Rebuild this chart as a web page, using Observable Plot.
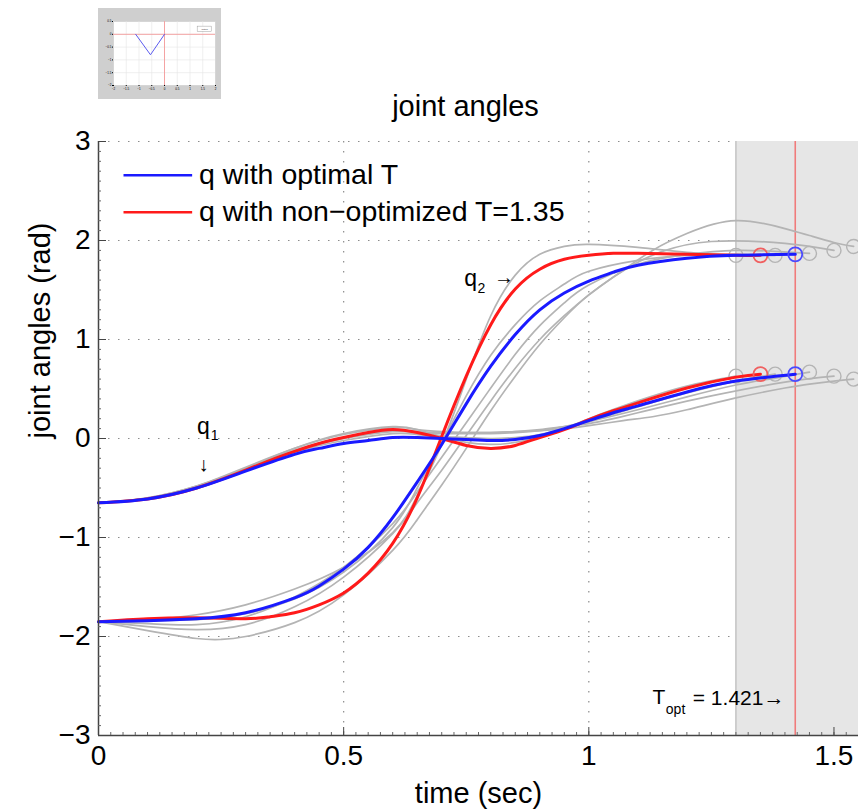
<!DOCTYPE html>
<html>
<head>
<meta charset="utf-8">
<script src="https://cdn.jsdelivr.net/npm/d3@7"></script>
<script src="https://cdn.jsdelivr.net/npm/@observablehq/plot@0.6"></script>
<style>
  html, body { margin: 0; padding: 0; background: #fff; }
  #wrap { position: relative; width: 858px; height: 811px; overflow: hidden; font-family: "Liberation Sans", Arial, Helvetica, sans-serif; }
  #main { position: absolute; left: 0; top: 0; }
  #thumb { position: absolute; left: 98px; top: 8px; }
</style>
</head>
<body>
<div id="wrap"><div id="main"></div><div id="thumb"></div></div>
<script>
// ---------- ticks / labels ----------
const xMajor = [0, 0.5, 1, 1.5];
const yMajor = [-3, -2, -1, 0, 1, 2, 3];
const gridX = [0.5, 1, 1.5];
const gridY = [-2, -1, 0, 1, 2, 3];
const titleText = "joint angles";
const xLabel = "time (sec)";
const yLabel = "joint angles (rad)";
const legendNames = ["q with optimal T", "q with non\u2212optimized T=1.35"];

// ---------- shaded region / optimal time ----------
const bandStart = [1.30];
const bandEnd = [1.55];
const Topt = [1.421];

// ---------- optimal T (blue) ----------
const blueT  = [0,0.1,0.2,0.3,0.4,0.45,0.5,0.55,0.6,0.65,0.7,0.75,0.8,0.85,0.9,0.95,1.0,1.05,1.1,1.2,1.3,1.421];
const blueQ1 = [-0.65,-0.61,-0.50,-0.33,-0.16,-0.10,-0.05,-0.02,0.01,0.01,0.00,-0.01,-0.02,-0.01,0.03,0.10,0.18,0.26,0.33,0.47,0.58,0.65];
const blueQ2 = [-1.85,-1.84,-1.82,-1.76,-1.61,-1.49,-1.32,-1.10,-0.80,-0.44,-0.06,0.35,0.73,1.05,1.30,1.47,1.59,1.68,1.75,1.82,1.85,1.86];

// ---------- non-optimized T = 1.35 (red) ----------
const redT  = [0,0.1,0.2,0.3,0.35,0.4,0.45,0.5,0.55,0.6,0.65,0.7,0.75,0.8,0.85,0.9,0.95,1.0,1.05,1.1,1.2,1.3,1.35];
const redQ1 = [-0.65,-0.61,-0.50,-0.32,-0.22,-0.13,-0.05,0.01,0.06,0.09,0.06,0.00,-0.07,-0.10,-0.07,0.01,0.09,0.19,0.28,0.36,0.51,0.62,0.65];
const redQ2 = [-1.85,-1.82,-1.81,-1.82,-1.80,-1.76,-1.68,-1.56,-1.36,-1.06,-0.60,0.02,0.63,1.15,1.51,1.71,1.81,1.85,1.87,1.87,1.86,1.85,1.85];

// ---------- intermediate iterates (gray) ----------
const g1T  = [0,0.1,0.2,0.3,0.4,0.5,0.6,0.65,0.7,0.75,0.8,0.85,0.9,0.95,1.0,1.1,1.2,1.3];
const g1Q1 = [-0.65,-0.60,-0.48,-0.30,-0.10,0.05,0.12,0.09,0.02,-0.04,-0.06,-0.04,0.02,0.10,0.20,0.38,0.53,0.63];
const g1Q2 = [-1.85,-1.83,-1.78,-1.68,-1.52,-1.30,-0.95,-0.58,-0.06,0.60,1.24,1.65,1.86,1.94,1.96,1.93,1.88,1.85];

const g2T  = [0,0.1,0.2,0.3,0.4,0.5,0.6,0.65,0.7,0.75,0.8,0.85,0.9,0.95,1.0,1.1,1.2,1.3,1.38];
const g2Q1 = [-0.65,-0.61,-0.50,-0.32,-0.14,-0.02,0.05,0.04,0.02,0.01,0.00,0.01,0.04,0.10,0.17,0.32,0.46,0.58,0.65];
const g2Q2 = [-1.85,-1.84,-1.83,-1.77,-1.62,-1.35,-0.90,-0.50,-0.04,0.43,0.84,1.15,1.39,1.56,1.69,1.80,1.85,1.86,1.85];

const g3T  = [0,0.1,0.2,0.3,0.4,0.5,0.6,0.65,0.7,0.75,0.8,0.85,0.9,0.95,1.0,1.1,1.2,1.3,1.38,1.45];
const g3Q1 = [-0.65,-0.61,-0.49,-0.31,-0.13,0.00,0.07,0.06,0.05,0.05,0.05,0.06,0.08,0.12,0.17,0.29,0.42,0.54,0.61,0.67];
const g3Q2 = [-1.85,-1.87,-1.88,-1.80,-1.60,-1.30,-0.86,-0.54,-0.19,0.16,0.51,0.85,1.14,1.37,1.55,1.76,1.86,1.90,1.89,1.87];

const g4T  = [0,0.1,0.2,0.3,0.4,0.5,0.6,0.65,0.7,0.75,0.8,0.85,0.9,0.95,1.0,1.05,1.1,1.15,1.25,1.4,1.5];
const g4Q1 = [-0.65,-0.61,-0.49,-0.31,-0.12,0.01,0.08,0.07,0.06,0.06,0.06,0.07,0.09,0.12,0.15,0.20,0.26,0.32,0.43,0.57,0.63];
const g4Q2 = [-1.85,-1.90,-1.93,-1.88,-1.70,-1.40,-0.96,-0.65,-0.32,0.03,0.38,0.71,1.00,1.24,1.45,1.63,1.78,1.89,1.99,1.97,1.90];

const g5T  = [0,0.1,0.2,0.25,0.3,0.4,0.5,0.6,0.65,0.7,0.75,0.8,0.85,0.9,0.95,1.0,1.07,1.13,1.2,1.3,1.4,1.45,1.5,1.54];
const g5Q1 = [-0.65,-0.60,-0.48,-0.39,-0.29,-0.10,0.04,0.11,0.09,0.07,0.06,0.06,0.07,0.08,0.10,0.13,0.18,0.22,0.29,0.41,0.51,0.55,0.58,0.60];
const g5Q2 = [-1.85,-1.94,-2.02,-2.03,-2.00,-1.86,-1.58,-1.13,-0.82,-0.47,-0.10,0.28,0.63,0.95,1.22,1.45,1.70,1.90,2.07,2.20,2.12,2.05,1.98,1.94];

// ---------- annotations (data coordinates) ----------
const annMain = [
  {x: 0.214, y: 0.12, text: "q", size: 23},
  {x: 0.214, y: -0.26, text: "\u2193", size: 20},
  {x: 0.759, y: 1.61, text: "q", size: 23},
  {x: 0.827, y: 1.63, text: "\u2192", size: 20}
];
const annSub = [
  {x: 0.229, y: 0.03, text: "1"},
  {x: 0.773, y: 1.52, text: "2"},
  {x: 1.157, y: -2.74, text: "opt"}
];
const annT = [{x: 1.143, y: -2.61, text: "T"}];
const annTval = [{x: 1.212, y: -2.62, text: "= 1.421\u2192"}];

// ---------- thumbnail data ----------
const thumbX = [-1.13, -0.55, 0];
const thumbY = [0, -0.8, 0];
const thumbXTicks = [-2,-1.5,-1,-0.5,0,0.5,1,1.5,2];
const thumbYTicks = [-2,-1.5,-1,-0.5,0,0.5];

// ---------- build tables ----------
function build(ts, qs, name) { return ts.map((t, i) => ({t, q: qs[i], name})); }
const grayTraj = [[g1T,g1Q1,g1Q2],[g2T,g2Q1,g2Q2],[g3T,g3Q1,g3Q2],[g4T,g4Q1,g4Q2],[g5T,g5Q1,g5Q2]];
const grayLines = grayTraj.flatMap(([T, a, b], k) => [...build(T, a, "g" + k + "a"), ...build(T, b, "g" + k + "b")]);
const grayEnds = grayTraj.flatMap(([T, a, b]) => [{t: T[T.length-1], q: a[a.length-1]}, {t: T[T.length-1], q: b[b.length-1]}]);
const blueLines = [...build(blueT, blueQ1, "b1"), ...build(blueT, blueQ2, "b2")];
const redLines = [...build(redT, redQ1, "r1"), ...build(redT, redQ2, "r2")];
const blueEnds = [{t: blueT.at(-1), q: blueQ1.at(-1)}, {t: blueT.at(-1), q: blueQ2.at(-1)}];
const redEnds = [{t: redT.at(-1), q: redQ1.at(-1)}, {t: redT.at(-1), q: redQ2.at(-1)}];

const fmt = d => (d < 0 ? "\u2212" + Math.abs(d) : String(d));
const xMinor = d3.range(0, 1.551, 0.025);
const yMinor = d3.range(-3, 3.001, 0.1);
const font = "'Liberation Sans', Arial, Helvetica, sans-serif";
const BLUE = "#1a1aff", RED = "#ff1a1a", GRAY = "#b4b4b4";
const CURVE = "natural";

const legendRows = [
  {name: legendNames[0], color: BLUE, row: 0},
  {name: legendNames[1], color: RED, row: 1}
];

const chart = Plot.plot({
  width: 858, height: 811,
  marginLeft: 98, marginRight: 0, marginTop: 141, marginBottom: 76,
  x: {domain: [0, 1.55]},
  y: {domain: [-3, 3]},
  style: {fontFamily: font, fontSize: "28px", color: "#000", background: "transparent", overflow: "visible"},
  marks: [
    // grid
    Plot.ruleY(gridY, {stroke: "#8c8c8c", strokeDasharray: "1.5,8.5", strokeWidth: 1.2}),
    Plot.ruleX(gridX, {stroke: "#8c8c8c", strokeDasharray: "1.5,8.5", strokeWidth: 1.2}),
    // shaded region beyond the shortest iterate
    Plot.rect(bandStart.map((s, i) => ({x1: s, x2: bandEnd[i]})), {x1: "x1", x2: "x2", y1: -3, y2: 3, fill: "#e6e6e6"}),
    Plot.ruleX(bandStart, {stroke: "#c4c4c4", strokeWidth: 1.5}),
    Plot.ruleX(Topt, {stroke: "#f07b7b", strokeWidth: 1.6}),
    // iterates
    Plot.line(grayLines, {x: "t", y: "q", z: "name", curve: CURVE, stroke: GRAY, strokeWidth: 1.7}),
    Plot.dot(grayEnds, {x: "t", y: "q", r: 7, stroke: GRAY, strokeWidth: 1.4, fill: "none"}),
    Plot.line(redLines, {x: "t", y: "q", z: "name", curve: CURVE, stroke: RED, strokeWidth: 3}),
    Plot.dot(redEnds, {x: "t", y: "q", r: 7, stroke: "#f06060", strokeWidth: 1.8, fill: "none"}),
    Plot.line(blueLines, {x: "t", y: "q", z: "name", curve: CURVE, stroke: BLUE, strokeWidth: 3}),
    Plot.dot(blueEnds, {x: "t", y: "q", r: 7, stroke: "#4a4aff", strokeWidth: 1.8, fill: "none"}),
    // axes lines
    Plot.ruleX([0], {stroke: "#444", strokeWidth: 1.5}),
    Plot.ruleY([-3], {stroke: "#444", strokeWidth: 1.5}),
    // ticks (inward)
    Plot.axisX(xMinor, {tickSize: 3, dy: -3, text: null, stroke: "#666"}),
    Plot.axisY(yMinor, {tickSize: 3, dx: 3, text: null, stroke: "#666"}),
    Plot.axisX(xMajor, {tickSize: 8, dy: -8, text: null, stroke: "#444"}),
    Plot.axisY(yMajor, {tickSize: 8, dx: 8, text: null, stroke: "#444"}),
    // tick labels
    Plot.axisX(xMajor, {tickSize: 0, tickPadding: 10, tickFormat: fmt, label: null, fontSize: 28}),
    Plot.axisY(yMajor, {tickSize: 0, tickPadding: 8, tickFormat: fmt, label: null, fontSize: 28}),
    // axis labels / title
    Plot.text([xLabel], {frameAnchor: "bottom", dy: 58, fontSize: 29, lineAnchor: "middle", text: d => d}),
    Plot.text([yLabel], {frameAnchor: "left", dx: -58, rotate: -90, fontSize: 29, text: d => d}),
    Plot.text([titleText], {frameAnchor: "top", dy: -46, dx: -13, fontSize: 29, text: d => d}),
    // legend
    Plot.ruleY(legendRows, {y: d => 2.66 - d.row * 0.375, x1: 0.052, x2: 0.192, stroke: "color", strokeWidth: 2.5}),
    Plot.text(legendRows, {x: 0.205, y: d => 2.66 - d.row * 0.375, text: "name", textAnchor: "start", fontSize: 28.5, fill: "#000"}),
    // annotations
    Plot.text(annMain, {x: "x", y: "y", text: "text", fontSize: "size", fill: "#000"}),
    Plot.text(annSub, {x: "x", y: "y", text: "text", fontSize: 14, textAnchor: "start", fill: "#000"}),
    Plot.text(annT, {x: "x", y: "y", text: "text", fontSize: 21, fill: "#000"}),
    Plot.text(annTval, {x: "x", y: "y", text: "text", fontSize: 21, textAnchor: "start", fill: "#000"})
  ]
});
document.getElementById("main").appendChild(chart);

// thumbnail inset
const thumb = Plot.plot({
  width: 123, height: 91,
  marginLeft: 15, marginRight: 6, marginTop: 13, marginBottom: 14,
  x: {domain: [-2, 2]},
  y: {domain: [-2, 0.5]},
  style: {fontFamily: font, fontSize: "3px", background: "#cfcfcf", overflow: "visible"},
  marks: [
    Plot.frame({fill: "#fff", stroke: "#999", strokeWidth: 0.5}),
    Plot.ruleX(thumbXTicks, {stroke: "#e4e4e4", strokeWidth: 0.6}),
    Plot.ruleY(thumbYTicks, {stroke: "#e4e4e4", strokeWidth: 0.6}),
    Plot.ruleY([0], {stroke: "#f4a3a3", strokeWidth: 1}),
    Plot.ruleX([0], {stroke: "#f4a3a3", strokeWidth: 1}),
    Plot.line(thumbX.map((x, i) => ({x, y: thumbY[i]})), {x: "x", y: "y", stroke: "#5c5cf0", strokeWidth: 1}),
    Plot.axisX(thumbXTicks, {tickSize: 1, tickPadding: 1, fontSize: 3, tickFormat: fmt, label: null}),
    Plot.axisY(thumbYTicks, {tickSize: 1, tickPadding: 1, fontSize: 3, tickFormat: fmt, label: null}),
    Plot.rect([{x1: 1.3, x2: 1.85, y1: 0.1, y2: 0.3}], {x1: "x1", x2: "x2", y1: "y1", y2: "y2", fill: "#fff", stroke: "#888", strokeWidth: 0.4}),
    Plot.text(["data1"], {x: 1.575, y: 0.2, text: d => d, fontSize: 2.5, fill: "#444"})
  ]
});
document.getElementById("thumb").appendChild(thumb);
</script>
</body>
</html>
